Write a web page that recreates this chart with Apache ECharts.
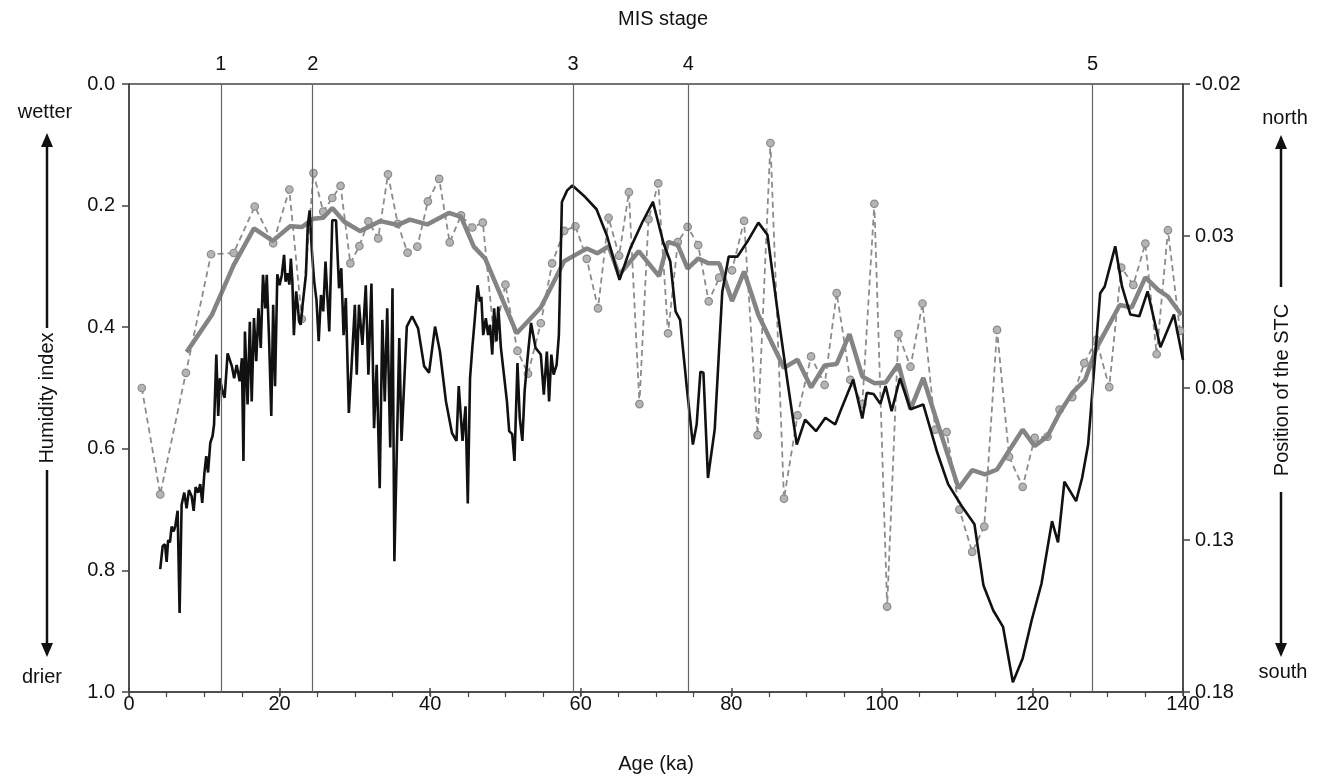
<!DOCTYPE html>
<html>
<head>
<meta charset="utf-8">
<script src="https://cdn.jsdelivr.net/npm/echarts@6/dist/echarts.min.js"></script>
<style>html,body{margin:0;padding:0;background:#fff}#c{width:1326px;height:779px}</style>
</head>
<body>
<div id="c"></div>
<script>
// Humidity index (black line) : [age ka, index]
const humidity = [[4.15,0.798],[4.47,0.760],[4.78,0.757],[5.0,0.786],[5.2,0.750],[5.44,0.754],[5.66,0.728],[5.93,0.736],[6.15,0.727],[6.46,0.702],[6.72,0.870],[6.99,0.692],[7.34,0.672],[7.65,0.698],[7.96,0.668],[8.32,0.678],[8.59,0.702],[8.85,0.663],[9.2,0.672],[9.46,0.658],[9.73,0.689],[10.0,0.642],[10.26,0.612],[10.5,0.639],[10.8,0.590],[11.1,0.579],[11.3,0.560],[11.6,0.445],[11.85,0.546],[12.07,0.484],[12.4,0.505],[12.7,0.516],[13.1,0.443],[13.66,0.464],[13.97,0.484],[14.3,0.462],[14.7,0.489],[15.0,0.451],[15.2,0.620],[15.4,0.407],[15.75,0.527],[16.05,0.391],[16.3,0.522],[16.6,0.385],[16.9,0.456],[17.2,0.369],[17.5,0.434],[17.8,0.314],[18.1,0.369],[18.3,0.314],[18.6,0.418],[18.9,0.546],[19.15,0.363],[19.4,0.497],[19.7,0.313],[20.0,0.331],[20.3,0.314],[20.6,0.281],[20.8,0.325],[21.05,0.311],[21.3,0.330],[21.5,0.287],[21.7,0.325],[21.9,0.413],[22.2,0.341],[22.4,0.363],[22.6,0.391],[22.8,0.396],[23.1,0.358],[23.5,0.314],[23.75,0.232],[24.0,0.208],[24.3,0.276],[24.6,0.325],[24.9,0.355],[25.2,0.423],[25.5,0.347],[25.8,0.374],[26.1,0.292],[26.6,0.407],[27.0,0.224],[27.5,0.224],[27.9,0.336],[28.2,0.303],[28.5,0.413],[28.8,0.352],[29.2,0.541],[29.55,0.467],[30.0,0.363],[30.25,0.478],[30.55,0.363],[31.0,0.429],[31.45,0.331],[31.8,0.478],[32.2,0.328],[32.55,0.566],[32.9,0.462],[33.3,0.665],[33.65,0.388],[33.97,0.522],[34.3,0.369],[34.7,0.598],[35.0,0.336],[35.25,0.785],[35.9,0.418],[36.2,0.587],[36.9,0.399],[37.6,0.382],[38.4,0.402],[39.2,0.464],[39.85,0.475],[40.65,0.399],[41.3,0.440],[42.1,0.522],[42.9,0.574],[43.5,0.587],[43.8,0.497],[44.3,0.587],[44.7,0.530],[45.0,0.690],[45.3,0.484],[45.6,0.434],[45.9,0.391],[46.3,0.331],[46.6,0.358],[46.8,0.350],[47.05,0.413],[47.4,0.385],[47.7,0.413],[47.95,0.396],[48.25,0.445],[48.5,0.369],[48.8,0.423],[49.05,0.366],[49.4,0.434],[49.7,0.467],[50.2,0.522],[50.5,0.571],[50.9,0.576],[51.2,0.620],[51.6,0.459],[51.9,0.549],[52.25,0.587],[52.55,0.505],[52.9,0.456],[53.4,0.393],[54.0,0.434],[54.7,0.445],[55.1,0.511],[55.5,0.440],[55.8,0.522],[56.1,0.445],[56.4,0.478],[56.8,0.462],[57.1,0.413],[57.5,0.194],[58.2,0.175],[58.9,0.167],[60.6,0.186],[62.1,0.206],[63.5,0.250],[65.15,0.322],[66.6,0.270],[68.2,0.227],[69.6,0.194],[71.0,0.262],[71.9,0.292],[72.6,0.374],[73.2,0.388],[74.1,0.500],[74.9,0.593],[75.4,0.560],[75.9,0.473],[76.3,0.475],[76.9,0.648],[77.8,0.568],[78.8,0.342],[79.65,0.284],[80.8,0.284],[82.1,0.260],[83.6,0.228],[84.8,0.248],[86.1,0.369],[87.4,0.484],[88.7,0.593],[89.8,0.552],[91.25,0.571],[92.5,0.549],[93.8,0.560],[94.5,0.538],[96.2,0.486],[97.4,0.550],[98.0,0.508],[98.9,0.510],[99.8,0.526],[100.5,0.497],[101.3,0.538],[102.4,0.484],[103.8,0.535],[105.5,0.527],[107.3,0.604],[108.8,0.658],[110.6,0.694],[112.3,0.724],[113.5,0.825],[114.8,0.866],[116.1,0.893],[117.4,0.984],[118.7,0.945],[119.9,0.882],[121.2,0.822],[122.6,0.719],[123.4,0.754],[124.25,0.654],[125.8,0.686],[126.6,0.648],[127.4,0.593],[128.1,0.484],[129.0,0.344],[129.6,0.333],[131.0,0.267],[131.9,0.333],[133.0,0.379],[134.2,0.382],[135.3,0.341],[137.0,0.433],[138.8,0.379],[140.0,0.454]];

// Position of the STC, individual samples (grey dashed, markers) : [age ka, position]
const stcPoints = [[1.7,0.080],[4.15,0.115],[7.56,0.075],[10.9,0.036],[13.9,0.0356],[16.7,0.0203],[19.15,0.0324],[21.3,0.0147],[22.96,0.0573],[24.5,0.0093],[25.8,0.022],[27.0,0.0175],[28.1,0.0135],[29.4,0.039],[30.6,0.0333],[31.8,0.0252],[33.1,0.0308],[34.4,0.0097],[35.7,0.026],[37.0,0.0355],[38.3,0.0335],[39.7,0.0186],[41.2,0.0112],[42.6,0.0321],[44.1,0.0232],[45.6,0.0272],[47.0,0.0256],[48.5,0.0636],[50.0,0.046],[51.6,0.0678],[53.0,0.0753],[54.7,0.0587],[56.2,0.039],[57.8,0.0283],[59.3,0.0268],[60.8,0.0375],[62.3,0.0538],[63.7,0.024],[65.1,0.0365],[66.4,0.0156],[67.8,0.0853],[69.0,0.0245],[70.3,0.0127],[71.6,0.062],[72.9,0.032],[74.2,0.027],[75.6,0.033],[77.0,0.0515],[78.4,0.0437],[80.1,0.0413],[81.7,0.025],[83.5,0.0955],[85.2,-0.0006],[87.0,0.1164],[88.8,0.089],[90.6,0.0696],[92.4,0.079],[94.0,0.0488],[95.8,0.0773],[97.4,0.0853],[99.0,0.0194],[100.7,0.1519],[102.2,0.0623],[103.8,0.073],[105.4,0.0522],[107.1,0.0937],[108.6,0.0945],[110.3,0.120],[112.0,0.1339],[113.6,0.1256],[115.3,0.0609],[116.9,0.1026],[118.7,0.1125],[120.3,0.0964],[122.0,0.096],[123.6,0.0871],[125.3,0.083],[126.9,0.0718],[128.5,0.0642],[130.2,0.0797],[131.8,0.0404],[133.4,0.0461],[135.0,0.0325],[136.5,0.0689],[138.0,0.0281],[139.6,0.0612]];

// Position of the STC, smoothed (thick grey) : [age ka, position]
const stcSmooth = [[7.65,0.0682],[11.0,0.056],[13.9,0.0396],[16.6,0.0275],[19.1,0.0316],[21.4,0.0268],[23.0,0.027],[24.5,0.0243],[25.8,0.024],[27.0,0.0208],[28.6,0.0253],[30.7,0.0284],[33.4,0.0251],[35.7,0.0264],[37.3,0.0246],[39.6,0.0262],[42.5,0.0224],[44.1,0.0237],[45.8,0.0335],[47.3,0.0374],[51.5,0.062],[54.7,0.0535],[57.8,0.0383],[59.3,0.0362],[60.8,0.0341],[62.2,0.0357],[63.7,0.0333],[65.1,0.0428],[67.7,0.035],[70.4,0.0432],[71.6,0.0319],[72.9,0.033],[74.2,0.0407],[75.6,0.0374],[77.0,0.039],[78.4,0.039],[80.1,0.0514],[81.7,0.0417],[83.6,0.056],[87.0,0.0734],[88.8,0.0707],[90.6,0.0798],[92.4,0.0726],[94.0,0.0721],[95.7,0.0623],[97.4,0.0762],[99.0,0.0784],[100.5,0.0782],[102.2,0.0721],[103.8,0.087],[105.5,0.0767],[107.1,0.0893],[110.2,0.113],[112.0,0.107],[113.7,0.1084],[115.3,0.1068],[117.0,0.1002],[118.7,0.0937],[120.3,0.0991],[122.0,0.0959],[123.6,0.0882],[125.3,0.0816],[127.0,0.0773],[128.5,0.0669],[131.6,0.0527],[133.2,0.0535],[135.0,0.0436],[136.7,0.0477],[138.0,0.0499],[139.8,0.056]];

// MIS stage boundaries
const misAges = [12.2, 24.4, 59.0, 74.3, 128.0];
const misLabels = ['1', '2', '3', '4', '5'];

const FONT = '"Liberation Sans", Arial, sans-serif';
const AX = '#444';
const GRID_TOP = 84, GRID_BOTTOM = 83, H = 779;

const chart = echarts.init(document.getElementById('c'), null, {renderer: 'canvas'});

function arrow(x, y0, y1, up) {
  const h = 14, w = 6;
  const base = up ? y1 + h : y1 - h;
  return [
    {type: 'line', shape: {x1: x, y1: y0, x2: x, y2: base}, style: {stroke: '#111', lineWidth: 2.5}},
    {type: 'polygon', shape: {points: [[x, y1], [x - w, base], [x + w, base]]}, style: {fill: '#111'}}
  ];
}

const textStyle = (t, x, y, rot) => ({
  type: 'text', x: x, y: y, rotation: rot || 0,
  style: {text: t, font: '20px ' + FONT, fill: '#111', textAlign: 'center', textVerticalAlign: 'middle'}
});

const option = {
  animation: false,
  title: {text: 'MIS stage', left: 'center', top: 4, textStyle: {fontFamily: FONT, fontSize: 20, fontWeight: 'normal', color: '#111'}},
  grid: {left: 129, right: 143, top: GRID_TOP, bottom: GRID_BOTTOM, show: true, borderColor: AX, borderWidth: 1.5},
  xAxis: [
    {
      type: 'value', min: 0, max: 140, interval: 5, position: 'bottom',
      name: 'Age (ka)', nameLocation: 'middle', nameGap: 62,
      nameTextStyle: {fontFamily: FONT, fontSize: 20, color: '#111'},
      axisLine: {onZero: false, lineStyle: {color: AX, width: 1.5}},
      axisTick: {show: true, inside: false, length: 5, lineStyle: {color: AX, width: 1.2}},
      axisLabel: {fontFamily: FONT, fontSize: 20, color: '#111', margin: 2, formatter: v => (v % 20 === 0 ? String(v) : '')},
      splitLine: {show: false}
    },
    {
      // major ticks (every 20 ka) pointing up into the plot from the bottom line
      type: 'value', min: 0, max: 140, interval: 20, position: 'top',
      offset: -(H - GRID_TOP - GRID_BOTTOM),
      axisLine: {show: false, onZero: false},
      axisTick: {show: true, inside: false, length: 8, lineStyle: {color: AX, width: 1.5}},
      axisLabel: {show: false},
      splitLine: {show: false}
    }
  ],
  yAxis: [
    {
      type: 'value', min: 0, max: 1, interval: 0.2, inverse: true, position: 'left',
      axisLine: {show: true, onZero: false, lineStyle: {color: AX, width: 1.5}},
      axisTick: {show: true, length: 7, lineStyle: {color: AX, width: 1.5}},
      axisLabel: {fontFamily: FONT, fontSize: 20, color: '#111', margin: 14, formatter: v => v.toFixed(1)},
      splitLine: {show: false}
    },
    {
      type: 'value', min: -0.02, max: 0.18, interval: 0.05, inverse: true, position: 'right',
      axisLine: {show: true, onZero: false, lineStyle: {color: AX, width: 1.5}},
      axisTick: {show: true, length: 7, lineStyle: {color: AX, width: 1.5}},
      axisLabel: {fontFamily: FONT, fontSize: 20, color: '#111', margin: 12, formatter: v => v.toFixed(2)},
      splitLine: {show: false}
    }
  ],
  series: [
    {
      name: 'STC samples', type: 'line', yAxisIndex: 1, data: stcPoints, z: 2,
      symbol: 'circle', symbolSize: 7.5, showSymbol: true,
      itemStyle: {color: '#b4b4b4', borderColor: '#8a8a8a', borderWidth: 1.2},
      lineStyle: {color: '#8c8c8c', width: 1.8, type: [6, 4]}
    },
    {
      name: 'STC smooth', type: 'line', yAxisIndex: 1, data: stcSmooth, z: 3,
      symbol: 'none', lineStyle: {color: '#848484', width: 4.5}
    },
    {
      name: 'Humidity', type: 'line', yAxisIndex: 0, data: humidity, z: 4,
      symbol: 'none', lineStyle: {color: '#111', width: 2.6},
      markLine: {
        silent: true, symbol: 'none', animation: false,
        lineStyle: {color: '#666', width: 1.2, type: 'solid'},
        label: {show: true, position: 'end', distance: 10, fontFamily: FONT, fontSize: 20, color: '#111'},
        data: misAges.map((a, i) => [
          {coord: [a, 1], label: {formatter: misLabels[i]}},
          {coord: [a, 0]}
        ])
      }
    }
  ],
  graphic: [
    textStyle('wetter', 45, 112),
    textStyle('drier', 42, 677),
    ...arrow(47, 328, 133, true),
    ...arrow(47, 470, 657, false),
    textStyle('Humidity index', 47, 398, Math.PI / 2),
    textStyle('north', 1285, 118),
    textStyle('south', 1283, 672),
    ...arrow(1281, 287, 135, true),
    ...arrow(1281, 492, 657, false),
    textStyle('Position of the STC', 1282, 390, Math.PI / 2)
  ]
};
chart.setOption(option);
</script>
</body>
</html>
